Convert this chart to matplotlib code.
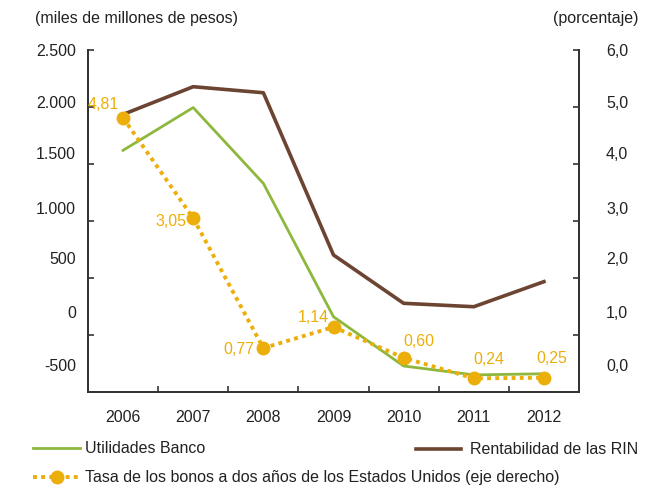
import numpy as np
import matplotlib.pyplot as plt
from matplotlib.lines import Line2D

plt.rcParams['font.family'] = ['Liberation Sans', 'DejaVu Sans']

ANIOS = ['2006', '2007', '2008', '2009', '2010', '2011', '2012']
UTILIDADES = [1620, 1995, 1330, 160, -272, -350, -340]
RENTABILIDAD = [1935, 2178, 2125, 702, 278, 248, 468]
TASA = [4.81, 3.05, 0.77, 1.14, 0.60, 0.24, 0.25]
ETIQ_IZQ = ['2.500', '2.000', '1.500', '1.000', '500', '0', '-500']
ETIQ_DER = ['6,0', '5,0', '4,0', '3,0', '2,0', '1,0', '0,0']

VERDE = '#8DB83D'
CAFE = '#6B4432'
NARANJA = '#ECAE0A'
GRIS = '#333333'
TXT = '#222222'
FS = 11.5

W, H = 668, 490
fig = plt.figure(figsize=(W / 100, H / 100), dpi=100)
ax = fig.add_axes([88 / W, 1 - 392 / H, 491 / W, 342 / H])
ax2 = ax.twinx()

x = np.arange(len(ANIOS))
ax.plot(x, UTILIDADES, color=VERDE, lw=2.0)
ax.plot(x, RENTABILIDAD, color=CAFE, lw=2.6)
ax2.plot(x, TASA, color=NARANJA, lw=2.8, ls=(0, (1, 1.1)),
         marker='o', ms=9, mec=NARANJA, mfc=NARANJA)

ax.set_xlim(-0.5, 6.5)
ax.set_ylim(-500, 2500)
ax2.set_ylim(0, 6)

for a in (ax, ax2):
    a.spines['top'].set_visible(False)
    for s in ('left', 'right', 'bottom'):
        a.spines[s].set_color(GRIS)
        a.spines[s].set_linewidth(1.3)
    a.tick_params(direction='in', length=4, width=1.2, color=GRIS,
                  labelleft=False, labelright=False, labelbottom=False)

ax.set_yticks(np.arange(-500, 2501, 500))
ax2.set_yticks(np.arange(0, 7, 1))
ax.set_xticks(np.arange(0.5, 6.5, 1))

# etiquetas desplazadas respecto a las marcas, como en el original
pos_y = [0.997, 0.844, 0.693, 0.534, 0.386, 0.230, 0.074]
for lab, py in zip(ETIQ_IZQ, pos_y):
    ax.text(-0.024, py, lab, transform=ax.transAxes, ha='right', va='center',
            fontsize=FS, color=TXT)
for lab, py in zip(ETIQ_DER, pos_y):
    ax.text(1.055, py, lab, transform=ax.transAxes, ha='left', va='center',
            fontsize=FS, color=TXT)
for i, lab in enumerate(ANIOS):
    ax.text(i, -0.076, lab, transform=ax.get_xaxis_transform(),
            ha='center', va='center', fontsize=FS, color=TXT)

offsets = [(-4, 13, 'right'), (-7, -3, 'right'), (-9, -1, 'right'),
           (-5, 10, 'right'), (0, 16, 'left'), (0, 19, 'left'), (8, 19, 'center')]
for xi, v, (dx, dy, ha) in zip(x, TASA, offsets):
    ax2.annotate(f'{v:.2f}'.replace('.', ','), (xi, v), xytext=(dx, dy),
                 textcoords='offset pixels', ha=ha, va='center',
                 fontsize=FS, color=NARANJA)

fig.text(35 / W, 1 - 18 / H, '(miles de millones de pesos)', fontsize=FS,
         va='center', color=TXT)
fig.text(553 / W, 1 - 18 / H, '(porcentaje)', fontsize=FS,
         va='center', color=TXT)

# leyenda
fig.add_artist(Line2D([33 / W, 80 / W], [1 - 448 / H] * 2, color=VERDE, lw=2.0))
fig.text(85 / W, 1 - 448 / H, 'Utilidades Banco', fontsize=FS, va='center',
         color=TXT)
fig.add_artist(Line2D([416 / W, 461 / W], [1 - 449 / H] * 2, color=CAFE, lw=2.6))
fig.text(470 / W, 1 - 449 / H, 'Rentabilidad de las RIN', fontsize=FS,
         va='center', color=TXT)
fig.add_artist(Line2D([33 / W, 80 / W], [1 - 477 / H] * 2, color=NARANJA,
                      lw=2.8, ls=(0, (1, 1.1))))
fig.add_artist(Line2D([57 / W], [1 - 477 / H], color=NARANJA, marker='o',
                      ms=9, mec=NARANJA))
fig.text(85 / W, 1 - 477 / H,
         'Tasa de los bonos a dos años de los Estados Unidos (eje derecho)',
         fontsize=FS, va='center', color=TXT)

fig.savefig('out.png', dpi=100)
